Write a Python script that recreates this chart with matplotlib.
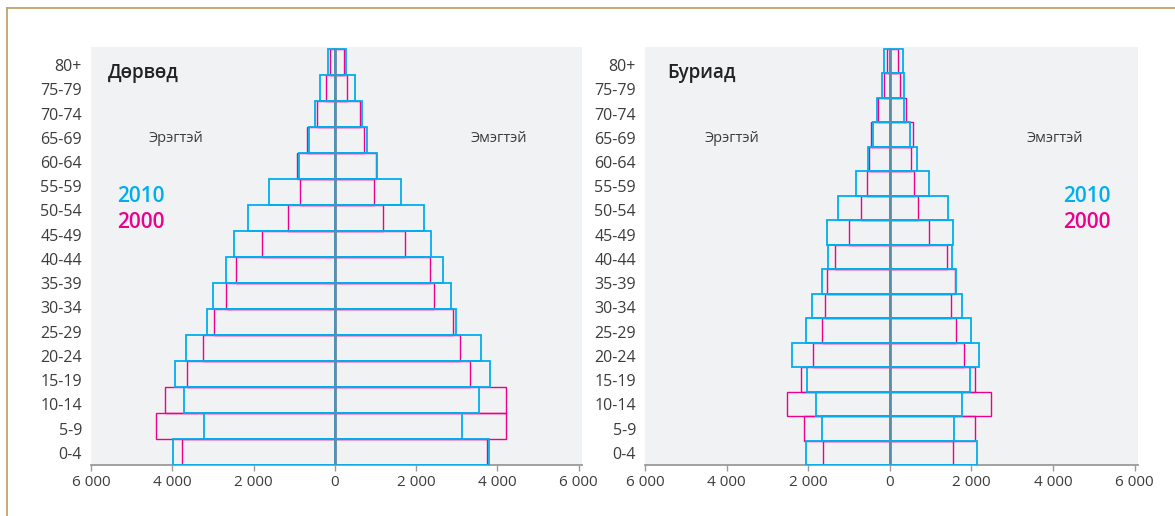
import matplotlib
matplotlib.use("Agg")
import matplotlib.pyplot as plt
from matplotlib.lines import Line2D
import numpy as np

plt.rcParams['font.family'] = ['Open Sans', 'DejaVu Sans']

age_labels = ["0-4", "5-9", "10-14", "15-19", "20-24", "25-29", "30-34", "35-39",
              "40-44", "45-49", "50-54", "55-59", "60-64", "65-69", "70-74", "75-79", "80+"]

# Дөрвөд (16 bar rows in the source picture), bottom to top
dorvod_male_2010 = [3990, 3210, 3700, 3925, 3670, 3155, 2995, 2675, 2480, 2130, 1615, 885, 630, 480, 375, 170]
dorvod_female_2010 = [3785, 3125, 3540, 3820, 3595, 2985, 2855, 2650, 2365, 2195, 1625, 1035, 800, 665, 490, 280]
dorvod_male_2000 = [3755, 4395, 4190, 3645, 3250, 2965, 2675, 2425, 1795, 1165, 865, 920, 685, 430, 215, 120]
dorvod_female_2000 = [3735, 4215, 4205, 3335, 3080, 2910, 2450, 2350, 1720, 1175, 965, 1005, 715, 610, 290, 235]

# Буриад (17 rows), bottom to top
buriad_male_2010 = [2060, 1665, 1805, 2035, 2400, 2060, 1915, 1665, 1520, 1530, 1280, 840, 530, 422, 305, 195, 143]
buriad_female_2010 = [2135, 1565, 1760, 1970, 2190, 2000, 1760, 1620, 1530, 1540, 1420, 965, 655, 497, 358, 345, 320]
buriad_male_2000 = [1630, 2115, 2510, 2170, 1885, 1660, 1585, 1550, 1355, 990, 705, 565, 505, 452, 280, 137, 82]
buriad_female_2000 = [1555, 2080, 2475, 2080, 1825, 1620, 1510, 1595, 1390, 960, 688, 595, 522, 574, 385, 238, 208]

x_ticks = [-6000, -4000, -2000, 0, 2000, 4000, 6000]

C2010 = "#00AEEF"
C2000 = "#EC008C"
BG = "#F1F2F4"
AXIS = "#5B8FA8"
TXT = "#3C3C3C"

W, H = 1175, 516
fig = plt.figure(figsize=(W / 100, H / 100), dpi=100)

n_lab = len(age_labels)
ytop = n_lab + 0.08


def fx(px):
    return px / W


def fy(py):
    return 1 - py / H


def panel(rect, title, m10, f10, m00, f00, tx, sx_left, sx_right, lx):
    ax = fig.add_axes(rect)
    ax.set_facecolor(BG)
    n = len(m10)
    edges = np.linspace(0, n_lab, n + 1)
    h = edges[1] - edges[0]
    yb = edges[:-1]
    # 2000 outlines
    ax.barh(yb, -np.array(m00), height=h, align='edge', facecolor='none',
            edgecolor=C2000, linewidth=1.0, zorder=2)
    ax.barh(yb, np.array(f00), height=h, align='edge', facecolor='none',
            edgecolor=C2000, linewidth=1.0, zorder=2)
    # 2010 outlines
    ax.barh(yb, -np.array(m10), height=h, align='edge', facecolor='none',
            edgecolor=C2010, linewidth=1.3, zorder=3)
    ax.barh(yb, np.array(f10), height=h, align='edge', facecolor='none',
            edgecolor=C2010, linewidth=1.3, zorder=3)
    ax.axvline(0, ymin=0, ymax=n_lab / ytop, color=AXIS, linewidth=1.9, zorder=4)

    ax.set_xlim(-6000, 6080)
    ax.set_ylim(0, ytop)
    ax.set_xticks(x_ticks)
    ax.set_xticklabels([f"{abs(v):,}".replace(",", " ") for v in x_ticks])
    ax.set_yticks(0.5 + np.arange(n_lab) * 0.99)
    ax.set_yticklabels(age_labels)
    ax.tick_params(axis='y', length=0, pad=6.5, labelsize=11.5, labelcolor=TXT)
    ax.tick_params(axis='x', length=4, width=1, color="#9A9A9A", pad=3,
                   labelsize=11, labelcolor=TXT)
    for s in ['top', 'right', 'left']:
        ax.spines[s].set_visible(False)
    ax.spines['bottom'].set_color("#9A9A9A")
    ax.spines['bottom'].set_linewidth(1.3)

    fig.text(fx(tx), fy(73), title, fontsize=13.5, fontweight='semibold',
             color="#222222", ha='left', va='center')
    fig.text(fx(sx_left), fy(139), "Эрэгтэй", fontsize=10.5, color=TXT,
             ha='center', va='center')
    fig.text(fx(sx_right), fy(139), "Эмэгтэй", fontsize=10.5, color=TXT,
             ha='center', va='center')
    fig.text(fx(lx), fy(196), "2010", fontsize=15, fontweight='semibold',
             color=C2010, ha='center', va='center')
    fig.text(fx(lx), fy(223), "2000", fontsize=15, fontweight='semibold',
             color=C2000, ha='center', va='center')
    return ax


panel([fx(91), 1 - 465 / H, fx(491), (465 - 47) / H], "Дөрвөд",
      dorvod_male_2010, dorvod_female_2010, dorvod_male_2000, dorvod_female_2000,
      tx=108, sx_left=176, sx_right=499, lx=141)
panel([fx(645), 1 - 465 / H, fx(493), (465 - 47) / H], "Буриад",
      buriad_male_2010, buriad_female_2010, buriad_male_2000, buriad_female_2000,
      tx=667, sx_left=732, sx_right=1055, lx=1087)

# frame line
gold = "#C4A36A"
fig.add_artist(Line2D([fx(7), 1.0], [fy(8), fy(8)], color=gold, linewidth=1.3,
                      transform=fig.transFigure))
fig.add_artist(Line2D([fx(7), fx(7)], [fy(8), 0.0], color=gold, linewidth=1.3,
                      transform=fig.transFigure))

fig.savefig("out.png", dpi=100, facecolor="white")
